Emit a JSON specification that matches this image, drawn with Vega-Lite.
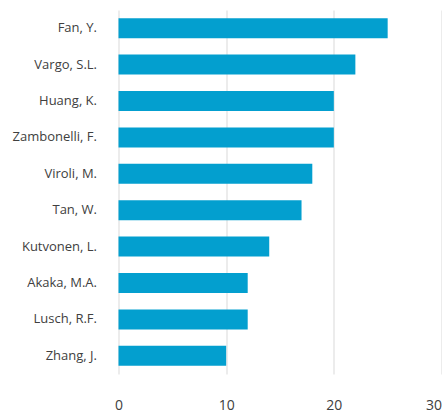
{
  "$schema": "https://vega.github.io/schema/vega-lite/v6.json",
  "autosize": "none",
  "width": 323,
  "height": 364,
  "padding": {"left": 118.5, "top": 10, "right": 0, "bottom": 42},
  "background": "white",
  "data": {"values": [
    {"author": "Fan, Y.", "count": 25},
    {"author": "Vargo, S.L.", "count": 22},
    {"author": "Huang, K.", "count": 20},
    {"author": "Zambonelli, F.", "count": 20},
    {"author": "Viroli, M.", "count": 18},
    {"author": "Tan, W.", "count": 17},
    {"author": "Kutvonen, L.", "count": 14},
    {"author": "Akaka, M.A.", "count": 12},
    {"author": "Lusch, R.F.", "count": 12},
    {"author": "Zhang, J.", "count": 10}
  ]},
  "mark": {"type": "bar", "color": "#039fcf"},
  "encoding": {
    "y": {
      "field": "author", "type": "nominal", "sort": null, "title": null,
      "scale": {"paddingInner": 0.45, "paddingOuter": 0.225},
      "axis": {"domain": false, "ticks": false, "grid": false, "labelPadding": 22,
               "labelFont": "Open Sans", "labelFontSize": 13, "labelColor": "#404040", "labelLimit": 200}
    },
    "x": {
      "field": "count", "type": "quantitative", "title": null,
      "scale": {"domain": [0, 30], "nice": false},
      "axis": {"values": [0, 10, 20, 30], "domain": false, "ticks": false, "grid": true,
               "gridColor": "#d9d9d9", "gridWidth": 1, "labelPadding": 24,
               "labelFont": "Open Sans", "labelFontSize": 14, "labelColor": "#404040", "labelFlush": false,
               "labelAlign": {"expr": "datum.value == 30 ? 'right' : 'center'"}}
    }
  },
  "config": {"view": {"stroke": null}}
}
